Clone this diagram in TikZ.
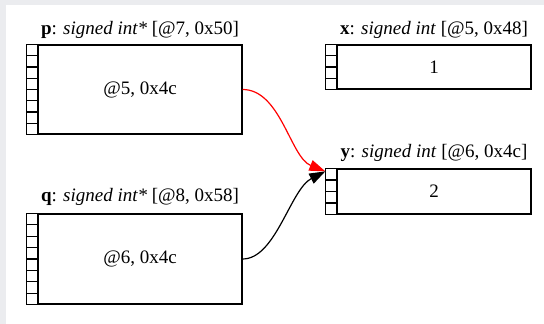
\documentclass[tikz,border=0pt]{standalone}
\usepackage{fontspec}
\setmainfont{Liberation Serif}
\usetikzlibrary{arrows.meta,calc}

\definecolor{pagegray}{RGB}{235,236,239}

\tikzset{
  x=1pt, y=1pt,
  membox/.style={draw=black, line width=1.3pt, fill=white, rectangle,
    inner sep=0pt, font=\fontsize{19}{21}\selectfont},
  varlabel/.style={anchor=base, inner sep=0pt, font=\fontsize{19}{21}\selectfont},
  cellline/.style={draw=black, line width=1.3pt},
  ptr/.style={line width=1.2pt, -{Triangle[length=16pt,width=11pt]}},
}

% byte strip left of a memory box: #1 = box name, #2 = number of cells
\newcommand{\bytestrip}[2]{%
  \draw[cellline] ($(#1.north west)+(-11,0)$) rectangle (#1.south west);
  \foreach \k in {1,...,\numexpr#2-1\relax}{
    \draw[cellline] ($(#1.north west)!{\k/#2}!(#1.south west)+(-11,0)$)
      -- ($(#1.north west)!{\k/#2}!(#1.south west)$);
  }%
}

\begin{document}
\begin{tikzpicture}
  % page
  \fill[pagegray] (0,0) rectangle (544,324);
  \fill[white] (6,0) rectangle (544,319);
  \useasboundingbox (0,0) rectangle (544,324);

  % memory boxes
  \node[membox, minimum width=204pt, minimum height=89pt] (p) at (140,234.5) {@5, 0x4c};
  \node[membox, minimum width=204pt, minimum height=90pt] (q) at (140,65) {@6, 0x4c};
  \node[membox, minimum width=194pt, minimum height=44pt] (x) at (434,257) {1};
  \node[membox, minimum width=194pt, minimum height=45pt] (y) at (434,132.5) {2};

  \bytestrip{p}{8}
  \bytestrip{q}{8}
  \bytestrip{x}{4}
  \bytestrip{y}{4}

  % variable labels
  \node[varlabel] (plabel) at ($(p.north)+(0,10)$) {\textbf{p}: \textit{signed int*} [@7, 0x50]};
  \node[varlabel] (qlabel) at ($(q.north)+(0,12)$) {\textbf{q}: \textit{signed int*} [@8, 0x58]};
  \node[varlabel] (xlabel) at ($(x.north)+(0,10)$) {\textbf{x}: \textit{signed int} [@5, 0x48]};
  \node[varlabel] (ylabel) at ($(y.north)+(0,11)$) {\textbf{y}: \textit{signed int} [@6, 0x4c]};

  % pointer targets
  \coordinate (yin) at ($(y.north west)+(-11,-3)$);

  % pointers
  \draw[ptr, red] (p.east) .. controls ($(p.east)+(38,0)$) and ($(yin)+(-35,14)$) .. (yin);
  \draw[ptr, black] (q.east) .. controls ($(q.east)+(33,0)$) and ($(yin)+(-35,-18)$) .. (yin);
\end{tikzpicture}
\end{document}
